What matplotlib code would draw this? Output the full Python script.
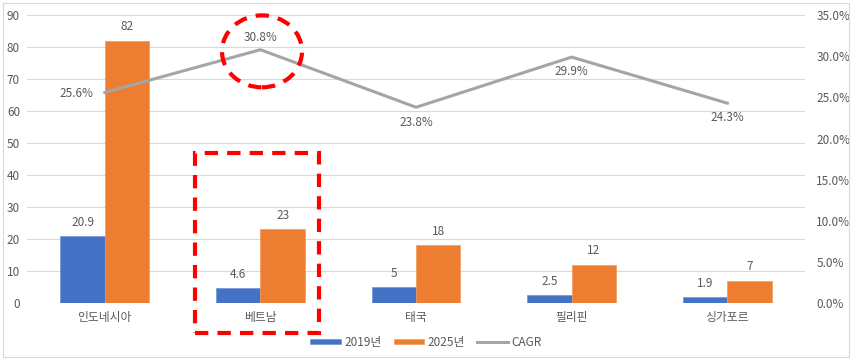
import matplotlib
matplotlib.use("Agg")
import matplotlib.pyplot as plt
from matplotlib.patches import Rectangle, Ellipse
import numpy as np

plt.rcParams['font.family'] = ['Noto Sans CJK KR', 'DejaVu Sans']

categories = ['인도네시아', '베트남', '태국', '필리핀', '싱가포르']
v2019 = [20.9, 4.6, 5, 2.5, 1.9]
v2025 = [82, 23, 18, 12, 7]
cagr = [25.6, 30.8, 23.8, 29.9, 24.3]
label_pos = ['left', 'above', 'below', 'below', 'below']

blue = '#4472C4'
orange = '#ED7D31'
gray = '#A5A5A5'
txt = '#595959'
fs = 8.5

fig = plt.figure(figsize=(8.52, 3.61), dpi=100)
fig.patches.append(Rectangle((0.004, 0.01), 0.992, 0.982, transform=fig.transFigure,
                             fill=False, edgecolor='#D9D9D9', linewidth=0.8))
ax = fig.add_axes([0.0317, 0.1607, 0.9133, 0.7973])
ax2 = ax.twinx()

x = np.arange(len(categories))
w = 0.285
b1 = ax.bar(x - w/2, v2019, w, color=blue, label='2019년', zorder=3,
            edgecolor='#6F93D3', linewidth=0.5)
b2 = ax.bar(x + w/2, v2025, w, color=orange, label='2025년', zorder=3,
            edgecolor='#F29A5C', linewidth=0.5)
for xi, v in zip(x, v2019):
    ax.text(xi - w/2, v + 2.3, f'{v:g}', ha='center', va='bottom', fontsize=fs, color=txt)
for xi, v in zip(x, v2025):
    ax.text(xi + w/2, v + 2.3, f'{v:g}', ha='center', va='bottom', fontsize=fs, color=txt)

ax.set_ylim(0, 90)
ax.set_yticks(range(0, 91, 10))
ax.set_xlim(-0.5, len(categories) - 0.5)
ax.set_xticks(x)
ax.set_xticklabels(categories)
ax.grid(axis='y', color='#D9D9D9', linewidth=0.8, zorder=0)
ax.set_axisbelow(True)
ax.tick_params(axis='both', length=0, labelsize=fs, colors=txt, pad=6)
ax.tick_params(axis='y', pad=5)
for s in ax.spines.values():
    s.set_visible(False)

l, = ax2.plot(x, cagr, color=gray, linewidth=2.2, label='CAGR', zorder=4)
ax2.set_ylim(0, 35)
ax2.set_yticks(range(0, 36, 5))
ax2.set_yticklabels([f'{t:.1f}%' for t in range(0, 36, 5)])
ax2.tick_params(axis='y', length=0, labelsize=fs, colors=txt, pad=8)
for s in ax2.spines.values():
    s.set_visible(False)
for xi, v, p in zip(x, cagr, label_pos):
    if p == 'left':
        ax2.annotate(f'{v:.1f}%', (xi, v), xytext=(-8, -1), textcoords='offset points',
                     ha='right', va='center', fontsize=fs, color=txt)
    elif p == 'above':
        ax2.annotate(f'{v:.1f}%', (xi, v), xytext=(0, 4), textcoords='offset points',
                     ha='center', va='bottom', fontsize=fs, color=txt)
    else:
        ax2.annotate(f'{v:.1f}%', (xi, v), xytext=(0, -6), textcoords='offset points',
                     ha='center', va='top', fontsize=fs, color=txt)

# red dashed highlight shapes
rect = Rectangle((0.58, -9.4), 0.797, 56.3, fill=False, edgecolor='#FF0000',
                 linewidth=3, linestyle=(0, (3.2, 2.2)), clip_on=False, zorder=6)
ax.add_patch(rect)
ell = Ellipse((1.01, 30.6), 0.514, 8.75, fill=False, edgecolor='#FF0000',
              linewidth=3, linestyle=(0, (3.2, 2.2)), clip_on=False, zorder=6)
ax2.add_patch(ell)

handles = [b1, b2, l]
leg = fig.legend(handles, ['2019년', '2025년', 'CAGR'], loc='center', bbox_to_anchor=(0.5, 0.052),
                 ncol=3, frameon=False, fontsize=fs, handlelength=2.6, handleheight=0.35,
                 columnspacing=1.0, handletextpad=0.3)
for t in leg.get_texts():
    t.set_color(txt)

fig.savefig('out.png', dpi=100)
